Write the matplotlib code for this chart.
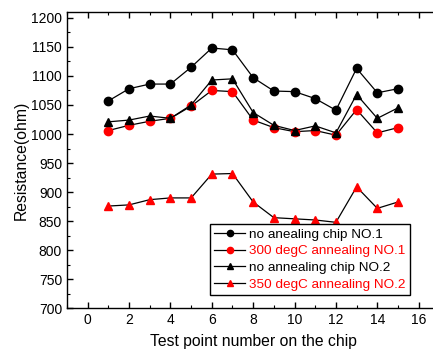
import matplotlib
matplotlib.use("Agg")
import matplotlib.pyplot as plt
from matplotlib.ticker import MultipleLocator

plt.rcParams.update({
    "font.family": ["Liberation Sans", "DejaVu Sans"],
    "font.size": 10,
    "xtick.direction": "in", "ytick.direction": "in",
    "xtick.top": True, "ytick.right": True,
    "axes.linewidth": 1.0,
})

points = list(range(1, 16))
no_anneal_1 = [1057, 1078, 1086, 1086, 1115, 1148, 1145, 1097, 1074, 1073, 1061, 1041, 1113, 1071, 1078]
anneal_300_1 = [1006, 1015, 1022, 1027, 1048, 1075, 1073, 1024, 1011, 1004, 1006, 998, 1042, 1002, 1011]
no_anneal_2 = [1021, 1024, 1031, 1027, 1050, 1093, 1095, 1037, 1015, 1006, 1014, 1002, 1068, 1027, 1045]
anneal_350_2 = [876, 878, 887, 890, 890, 931, 932, 883, 856, 854, 852, 848, 909, 872, 883]

series = [
    (no_anneal_1, "o", "black", "no anealing chip NO.1"),
    (anneal_300_1, "o", "red", "300 degC annealing NO.1"),
    (no_anneal_2, "^", "black", "no annealing chip NO.2"),
    (anneal_350_2, "^", "red", "350 degC annealing NO.2"),
]

fig = plt.figure(figsize=(4.33, 3.51), dpi=100)
ax = fig.add_axes([0.1547, 0.1217, 0.860, 0.844])

for vals, mk, col, lab in series:
    ax.plot(points, vals, color="black", linewidth=0.9, marker=mk,
            markersize=6, markerfacecolor=col, markeredgecolor=col, label=lab)

ax.set_xlim(-1, 17)
ax.set_ylim(700, 1210)
ax.set_xticks(range(0, 17, 2))
ax.set_yticks(range(700, 1201, 50))
ax.xaxis.set_minor_locator(MultipleLocator(1))
ax.yaxis.set_minor_locator(MultipleLocator(25))
ax.tick_params(which="major", length=4, width=1, labelsize=10, colors="black")
ax.tick_params(which="minor", length=2, width=0.8, top=True, right=True)

ax.set_xlabel("Test point number on the chip", fontsize=11.3, labelpad=5)
ax.set_ylabel("Resistance(ohm)", fontsize=11.3, labelpad=2)

leg = ax.legend(loc="lower left", bbox_to_anchor=(0.384, 0.045), fontsize=9.7,
                frameon=True, fancybox=False, edgecolor="black", framealpha=1,
                handlelength=2.3, handletextpad=0.3, borderpad=0.3,
                labelspacing=0.32, markerscale=0.75, borderaxespad=0)
leg.get_frame().set_linewidth(1.0)
for txt, (_, _, col, _) in zip(leg.get_texts(), series):
    txt.set_color(col)

fig.savefig("out.png", dpi=100)
